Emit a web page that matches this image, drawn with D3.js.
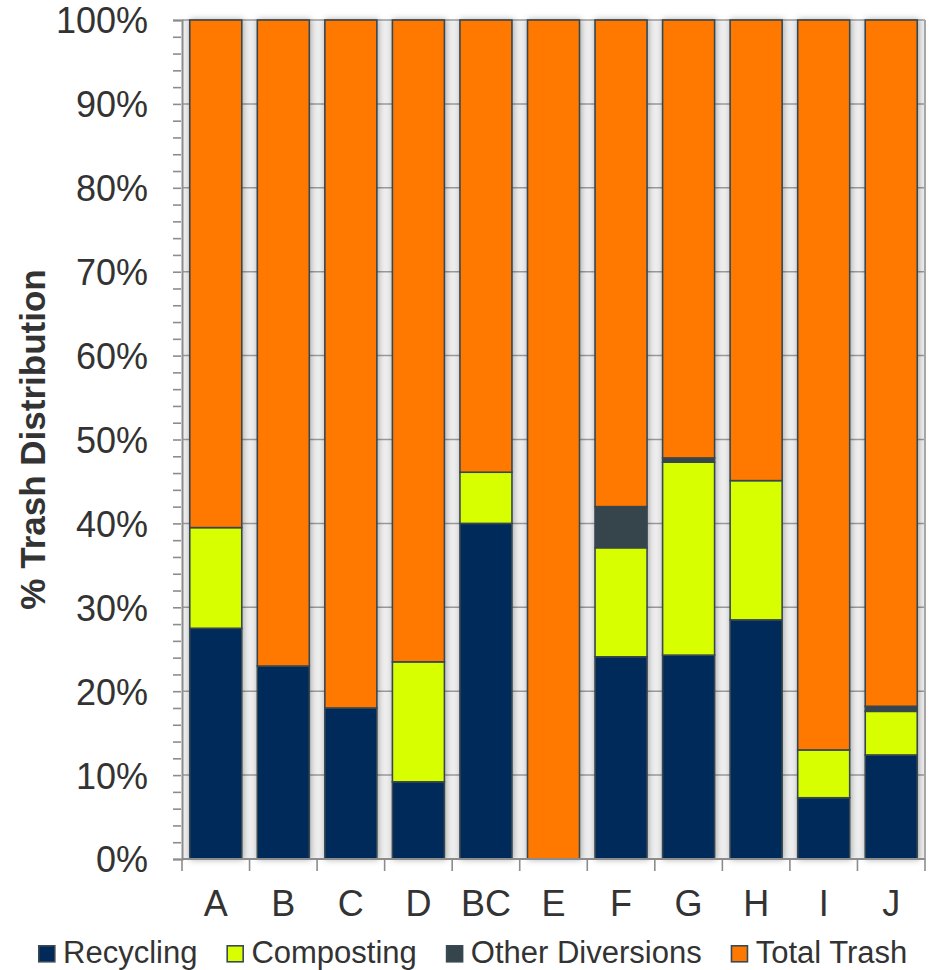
<!DOCTYPE html>
<html>
<head>
<meta charset="utf-8">
<script src="https://cdn.jsdelivr.net/npm/d3@7"></script>
<style>
  html, body { margin: 0; padding: 0; background: #fff; }
  svg { display: block; font-family: "Liberation Sans", Arial, sans-serif; }
</style>
</head>
<body>
<svg id="chart" width="934" height="970"></svg>
<script>
// Sites along the x axis
const categories = ["A", "B", "C", "D", "BC", "E", "F", "G", "H", "I", "J"];

// Share of waste stream (%) per site, stacked bottom to top
const recycling      = [27.5, 23.0, 18.0,  9.2, 40.0, 0.0, 24.1, 24.3, 28.5,  7.3, 12.4];
const composting     = [12.0,  0.0,  0.0, 14.3,  6.1, 0.0, 13.0, 23.0, 16.6,  5.7,  5.2];
const otherDiversion = [ 0.0,  0.0,  0.0,  0.0,  0.0, 0.0,  4.9,  0.5,  0.0,  0.0,  0.6];
const totalTrash = categories.map((_, i) =>
  100 - recycling[i] - composting[i] - otherDiversion[i]);

const seriesNames  = ["Recycling", "Composting", "Other Diversions", "Total Trash"];
const seriesColors = ["#012a5a", "#d7ff00", "#36444c", "#ff7900"];

const yTickValues = d3.range(0, 101, 10);

// ---- layout ----
const svg = d3.select("#chart");
const plot = { left: 182, right: 925, top: 20, bottom: 859 };

const rows = categories.map((c, i) => ({
  cat: c,
  "Recycling": recycling[i],
  "Composting": composting[i],
  "Other Diversions": otherDiversion[i],
  "Total Trash": totalTrash[i]
}));
const stacked = d3.stack().keys(seriesNames)(rows);

const x = d3.scaleBand()
  .domain(categories)
  .range([plot.left, plot.right])
  .paddingInner(0.23)
  .paddingOuter(0.115);

const y = d3.scaleLinear().domain([0, 100]).range([plot.bottom, plot.top]);
const color = d3.scaleOrdinal().domain(seriesNames).range(seriesColors);

// soft shadow around bars
const defs = svg.append("defs");
const f = defs.append("filter").attr("id", "barShadow")
  .attr("x", "-30%").attr("y", "-5%").attr("width", "160%").attr("height", "110%");
f.append("feDropShadow").attr("dx", 1).attr("dy", 0).attr("stdDeviation", 3)
  .attr("flood-color", "#000").attr("flood-opacity", 0.3);

// plot background
svg.append("rect")
  .attr("x", plot.left).attr("y", plot.top)
  .attr("width", plot.right - plot.left).attr("height", plot.bottom - plot.top)
  .attr("fill", "#efefef");

// horizontal gridlines
svg.append("g").selectAll("line").data(yTickValues).join("line")
  .attr("x1", plot.left).attr("x2", plot.right)
  .attr("y1", d => y(d)).attr("y2", d => y(d))
  .attr("stroke", "#9a9a9a").attr("stroke-width", 1.5);

// right frame edge
svg.append("line")
  .attr("x1", plot.right).attr("x2", plot.right)
  .attr("y1", plot.top).attr("y2", plot.bottom)
  .attr("stroke", "#a8a8a8").attr("stroke-width", 2);

// stacked bars
const barsG = svg.append("g");
barsG.selectAll("g.cat")
  .data(categories).join("g").attr("class", "cat")
  .attr("filter", "url(#barShadow)")
  .each(function(cat, i) {
    const g = d3.select(this);
    stacked.forEach(layer => {
      const d = layer[i];
      if (d[1] - d[0] <= 0) return;
      g.append("rect")
        .attr("x", x(cat))
        .attr("width", x.bandwidth())
        .attr("y", y(d[1]))
        .attr("height", y(d[0]) - y(d[1]))
        .attr("fill", color(layer.key))
        .attr("stroke", "#37474f")
        .attr("stroke-width", 1.6);
    });
  });

// y axis
const yAxis = d3.axisLeft(y)
  .tickValues(d3.range(0, 101, 2))
  .tickSize(9)
  .tickPadding(25)
  .tickFormat(d => d % 10 === 0 ? d + "%" : "");
const yG = svg.append("g").attr("transform", `translate(${plot.left},0)`).call(yAxis);
yG.select(".domain").attr("stroke", "#8c8c8c").attr("stroke-width", 2);
yG.selectAll(".tick line").attr("stroke", "#8c8c8c").attr("stroke-width", 1.6)
  .attr("x1", -1);
yG.selectAll(".tick text")
  .attr("fill", "#333").attr("font-size", 36)
  .attr("font-family", "'Liberation Sans', Arial, sans-serif")
  .attr("dy", "0.36em");

// x axis: ticks at band boundaries, labels at centres
const xG = svg.append("g").attr("transform", `translate(0,${plot.bottom})`);
xG.append("line").attr("x1", plot.left).attr("x2", plot.right)
  .attr("stroke", "#8c8c8c").attr("stroke-width", 2);
const boundaries = categories.map(c => x(c) - x.step() * x.paddingInner() / 2)
  .concat([plot.right]);
boundaries[0] = plot.left;
xG.selectAll("line.tk").data(boundaries).join("line").attr("class", "tk")
  .attr("x1", d => d).attr("x2", d => d).attr("y1", 0).attr("y2", 12)
  .attr("stroke", "#8c8c8c").attr("stroke-width", 1.6);
xG.selectAll("text").data(categories).join("text")
  .attr("x", c => x(c) + x.bandwidth() / 2)
  .attr("y", 57)
  .attr("text-anchor", "middle")
  .attr("fill", "#333").attr("font-size", 36)
  .text(c => c);

// y axis title
svg.append("text")
  .attr("transform", `translate(45,${(plot.top + plot.bottom) / 2}) rotate(-90)`)
  .attr("text-anchor", "middle")
  .attr("font-weight", "bold")
  .attr("font-size", 35)
  .attr("fill", "#333")
  .text("% Trash Distribution");

// legend
const legend = svg.append("g").attr("transform", "translate(38,945)");
let lx = 0;
seriesNames.forEach(name => {
  const item = legend.append("g").attr("transform", `translate(${lx},0)`);
  item.append("rect").attr("x", 0.8).attr("y", 0.8).attr("width", 16).attr("height", 16)
    .attr("fill", color(name)).attr("stroke", "#3a4a55").attr("stroke-width", 1.6);
  const t = item.append("text").attr("x", 25).attr("y", 17.5)
    .attr("font-size", 31).attr("fill", "#333").text(name);
  lx += 25 + t.node().getComputedTextLength() + 29;
});
</script>
</body>
</html>
